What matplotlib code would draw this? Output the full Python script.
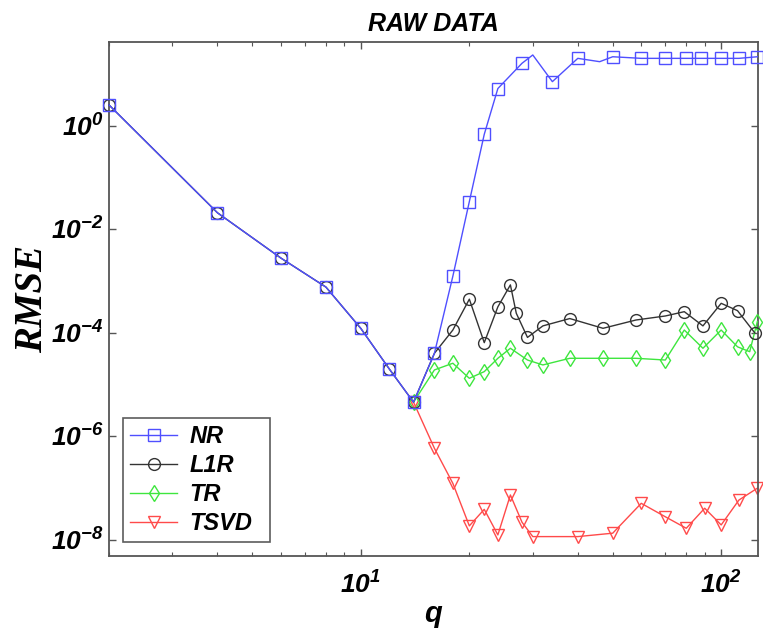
"""
plot.py
RMSE against q for four reconstruction methods, log-log axes.
"""

import matplotlib
matplotlib.use("Agg")
import matplotlib.pyplot as plt
from matplotlib.ticker import FixedLocator, LogLocator, NullLocator, FuncFormatter, NullFormatter
import numpy as np

# shared part of all four curves (q = 2..14)
q_common = [2, 4, 6, 8, 10, 12, 14]
rmse_common = [2.55, 0.021, 2.8e-3, 7.7e-4, 1.22e-4, 2.0e-5, 4.6e-6]

# NR: the peak at q=30 and dip at q=46 carry no marker in the source
q_nr = [16, 18, 20, 22, 24, 28, 30, 34, 40, 46, 50, 60, 70, 80, 88, 100, 112, 126]
rmse_nr = [4.05e-5, 1.25e-3, 0.0346, 0.69, 5.3, 16.3, 23.6, 7.2, 20.3, 17.5,
           21.8, 20.3, 20.3, 20.3, 20.3, 20.3, 20.3, 21.8]
nr_unmarked = [30, 46]

q_l1r = [16, 18, 20, 22, 24, 26, 27, 29, 32, 38, 47, 58, 70, 79, 89, 100, 111, 124]
rmse_l1r = [4.05e-5, 1.14e-4, 4.5e-4, 6.5e-5, 3.2e-4, 8.5e-4, 2.4e-4, 8.2e-5,
            1.37e-4, 1.9e-4, 1.23e-4, 1.78e-4, 2.13e-4, 2.58e-4, 1.37e-4,
            3.74e-4, 2.7e-4, 1.0e-4]

q_tr = [14, 16, 18, 20, 22, 24, 26, 29, 32, 38, 47, 58, 70, 79, 89, 100, 111, 120, 126]
rmse_tr = [4.6e-6, 1.93e-5, 2.6e-5, 1.33e-5, 1.79e-5, 3.24e-5, 5.06e-5, 3.0e-5,
           2.41e-5, 3.24e-5, 3.24e-5, 3.24e-5, 3.0e-5, 1.14e-4, 5.06e-5,
           1.14e-4, 5.4e-5, 4.35e-5, 1.66e-4]

q_tsvd = [14, 16, 18, 20, 22, 24, 26, 28, 30, 40, 50, 60, 70, 80, 90, 100, 112, 126]
rmse_tsvd = [4.6e-6, 5.9e-7, 1.24e-7, 1.87e-8, 3.9e-8, 1.25e-8, 7.4e-8, 2.2e-8,
             1.16e-8, 1.16e-8, 1.35e-8, 5.1e-8, 2.8e-8, 1.68e-8, 4.1e-8,
             1.95e-8, 5.9e-8, 1.0e-7]

x_ticks = [10, 100]
y_ticks = [1e-8, 1e-6, 1e-4, 1e-2, 1e0]

plt.rcParams['mathtext.fontset'] = 'custom'
plt.rcParams['mathtext.bf'] = 'Liberation Sans:italic:bold'
plt.rcParams['mathtext.rm'] = 'Liberation Sans:italic:bold'
plt.rcParams['mathtext.it'] = 'Liberation Sans:italic:bold'

FRAME = '#555555'


def log_label(v, pos):
    return r'$\mathbf{10^{%d}}$' % int(round(np.log10(v)))


fig = plt.figure(figsize=(7.63, 6.32), dpi=100)
ax = fig.add_axes([0.1429, 0.1203, 0.8505, 0.8132])

style = dict(lw=1.0, mew=1.0, mfc='none', clip_on=False)

q_all = q_common + q_nr
y_all = rmse_common + rmse_nr
marks = [i for i, q in enumerate(q_all) if q not in nr_unmarked]
ax.plot(q_all, y_all, color='#4f4fff', marker='s', ms=8, markevery=marks,
        label='NR', zorder=5, **style)
ax.plot(q_common + q_l1r, rmse_common + rmse_l1r, color='#333333', marker='o', ms=8.5,
        label='L1R', zorder=4, **style)
ax.plot(q_tr, rmse_tr, color='#3ee63e', marker='d', ms=8.5, label='TR', zorder=3, **style)
ax.plot(q_tsvd, rmse_tsvd, color='#ff4a4a', marker='v', ms=9, label='TSVD', zorder=2, **style)

ax.set_xscale('log')
ax.set_yscale('log')
ax.set_xlim(2.0, 126.5)
ax.set_ylim(10 ** -8.31, 10 ** 1.623)

ax.xaxis.set_major_locator(FixedLocator(x_ticks))
ax.xaxis.set_minor_locator(LogLocator(base=10, subs=np.arange(2, 10)))
ax.xaxis.set_minor_formatter(NullFormatter())
ax.xaxis.set_major_formatter(FuncFormatter(log_label))
ax.yaxis.set_major_locator(FixedLocator(y_ticks))
ax.yaxis.set_minor_locator(NullLocator())
ax.yaxis.set_major_formatter(FuncFormatter(log_label))

ax.tick_params(which='both', direction='in', top=True, right=True, color=FRAME,
               labelsize=19)
ax.tick_params(axis='y', pad=4)
ax.tick_params(axis='x', pad=12)
ax.tick_params(which='major', length=5, width=1)
ax.tick_params(which='minor', length=3, width=0.8)
for sp in ax.spines.values():
    sp.set_color(FRAME)
    sp.set_linewidth(1.3)

ax.set_title('RAW DATA', fontsize=18, fontweight='bold', fontstyle='italic',
             family='Liberation Sans', pad=8)
ax.set_xlabel('q', fontsize=21, fontweight='bold', fontstyle='italic',
              family='Liberation Sans', labelpad=0)
ax.set_ylabel('RMSE', fontsize=28, fontweight='bold', fontstyle='italic',
              family='Liberation Serif')
ax.yaxis.set_label_coords(-0.09, 0.5)

leg = ax.legend(loc='lower left', bbox_to_anchor=(0.0216, 0.027, 0.227, 0.259),
                mode='expand', fancybox=False, edgecolor='#333333',
                prop=dict(family='Liberation Sans', weight='bold', style='italic', size=17),
                handlelength=2.0, handletextpad=0.5, labelspacing=0.25,
                borderpad=0.3, borderaxespad=0)
leg.get_frame().set_linewidth(1.2)

fig.savefig('out.png', dpi=100)
